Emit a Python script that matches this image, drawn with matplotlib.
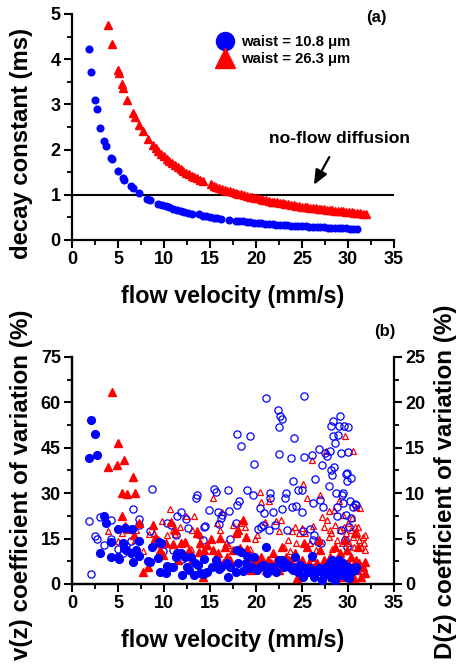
import matplotlib
matplotlib.use("Agg")
import matplotlib.pyplot as plt
from matplotlib.ticker import MultipleLocator
from matplotlib.lines import Line2D

plt.rcParams['font.family'] = ['Liberation Sans', 'DejaVu Sans']
plt.rcParams['font.weight'] = 'bold'

BLUE = '#0000ff'
RED = '#ff0000'

# ---- panel (a): decay constant vs flow velocity ----
a_blue_x = [1.8, 2.1, 2.5, 2.7, 3.1, 3.5, 3.7, 4.2, 4.3, 5.0, 5.5, 5.7, 6.4, 6.6, 7.3,
            8.2, 8.5, 9.4, 9.8, 10.2, 10.6, 11.0, 11.4, 11.8, 12.2, 12.6, 13.0, 13.8,
            14.2, 14.6, 15.0, 15.4, 15.8, 16.2, 17.1, 17.8, 18.2, 18.6, 19.0, 19.4,
            19.8, 20.2, 20.6, 21.0, 21.4, 21.8, 22.2, 22.6, 23.0, 23.4, 23.8, 24.2,
            24.6, 25.0, 25.4, 25.8, 26.2, 26.6, 27.0, 27.4, 27.8, 28.2, 28.6, 29.0,
            29.4, 29.8, 30.2, 30.6, 31.0]
a_blue_y = [4.22, 3.72, 3.10, 2.90, 2.48, 2.20, 2.07, 1.82, 1.80, 1.53, 1.37, 1.33, 1.20,
            1.16, 1.05, 0.91, 0.88, 0.80, 0.77, 0.745, 0.72, 0.69, 0.665, 0.645, 0.62,
            0.605, 0.585, 0.565, 0.535, 0.52, 0.505, 0.495, 0.48, 0.47, 0.45, 0.43,
            0.42, 0.41, 0.40, 0.39, 0.385, 0.375, 0.37, 0.36, 0.355, 0.35, 0.34, 0.335,
            0.33, 0.325, 0.32, 0.315, 0.31, 0.305, 0.30, 0.295, 0.29, 0.285, 0.28,
            0.277, 0.273, 0.27, 0.265, 0.262, 0.258, 0.255, 0.25, 0.248, 0.245]

a_red_x = [3.9, 4.3, 5.0, 5.1, 5.4, 5.6, 6.0, 6.6, 6.8, 7.3, 7.7, 8.3, 8.8, 9.1, 9.4,
           9.7, 10.0, 10.3, 10.6, 10.9, 11.2, 11.5, 11.8, 12.1, 12.4, 12.7, 13.0, 13.3,
           13.6, 13.9, 14.2, 15.1, 15.4, 15.7, 16.0, 16.3, 16.6, 16.9, 17.2, 17.5,
           17.8, 18.1, 18.4, 18.7, 19.0, 19.3, 19.6, 19.9, 20.2, 20.5, 20.8, 21.1,
           21.4, 21.7, 22.0, 22.3, 22.6, 22.9, 23.2, 23.5, 23.8, 24.1, 24.4, 24.7,
           25.0, 25.3, 25.6, 25.9, 26.2, 26.5, 26.8, 27.1, 27.4, 27.7, 28.0, 28.3,
           28.6, 28.9, 29.2, 29.5, 29.8, 30.1, 30.4, 30.7, 31.0, 31.3, 31.6, 32.0]
a_red_y = [4.75, 4.33, 3.77, 3.70, 3.45, 3.36, 3.09, 2.80, 2.72, 2.55, 2.40, 2.23, 2.10,
           2.03, 1.97, 1.91, 1.85, 1.80, 1.75, 1.70, 1.65, 1.61, 1.57, 1.53, 1.49, 1.46,
           1.42, 1.39, 1.36, 1.33, 1.30, 1.23, 1.20, 1.18, 1.16, 1.13, 1.11, 1.09, 1.08,
           1.06, 1.04, 1.02, 1.01, 0.99, 0.97, 0.96, 0.94, 0.93, 0.92, 0.90, 0.89, 0.88,
           0.86, 0.85, 0.84, 0.83, 0.82, 0.81, 0.80, 0.79, 0.78, 0.77, 0.76, 0.75, 0.74,
           0.73, 0.72, 0.715, 0.71, 0.70, 0.69, 0.68, 0.675, 0.67, 0.66, 0.655, 0.65,
           0.64, 0.635, 0.63, 0.62, 0.615, 0.61, 0.60, 0.597, 0.59, 0.585, 0.578]

noflow_level = 1.0

# ---- panel (b): coefficient of variation ----
# filled: v(z) CV (left axis), open: D(z) CV (right axis)
vb_x = [1.81, 2.07, 2.46, 2.68, 3.1, 3.48, 3.7, 4.2, 4.2, 5.0, 5.0, 5.07, 5.58, 5.69,
        5.76, 5.87, 6.38, 6.6, 6.56, 7.0, 7.25, 7.3, 8.26, 8.44, 8.66, 9.42, 9.53, 9.7,
        9.4, 10.2, 10.3, 10.65, 10.94, 11.27, 11.41, 11.9, 12.0, 12.3, 12.46, 12.7,
        12.9, 13.3, 13.37, 13.66, 13.9, 14.2, 14.38, 14.5, 14.7, 15.2, 15.65, 15.8,
        16.0, 16.2, 16.8, 17.0, 17.2, 17.8, 17.9, 18.1, 18.4, 18.55, 18.9, 19.06,
        19.35, 19.6, 19.8, 20.1, 20.4, 20.8, 21.05, 21.2, 21.4, 21.6, 21.9, 22.2,
        22.5, 22.6, 22.8, 23.0, 23.2, 23.5, 23.8, 24.06, 24.2, 24.35, 24.6, 24.8,
        25.1, 25.3, 25.7, 25.9, 26.1, 26.3, 26.5, 26.8, 27.0, 27.2, 27.4, 27.6, 27.9,
        28.0, 28.15, 28.3, 28.4, 28.6, 28.8, 28.9, 29.05, 29.2, 29.3, 29.5, 29.7,
        29.85, 30.0, 30.15, 30.3, 30.5, 30.75, 30.9]
vb_y = [41.5, 54.1, 49.7, 42.7, 10.1, 22.6, 20.3, 9.0, 13.8, 18.1, 9.0, 8.2, 13.5, 11.8,
        18.4, 11.2, 10.1, 7.3, 18.1, 11.2, 9.3, 14.2, 7.7, 7.4, 12.2, 13.9, 3.9, 13.7,
        8.6, 3.5, 6.0, 5.7, 5.7, 8.8, 10.4, 10.1, 3.1, 8.8, 5.5, 4.6, 9.0, 3.0, 6.9,
        6.3, 3.5, 3.2, 8.2, 3.5, 4.1, 5.7, 7.9, 6.8, 4.9, 5.7, 6.8, 2.4, 5.7, 4.0,
        11.2, 6.8, 10.7, 4.4, 6.8, 9.3, 5.2, 5.7, 9.0, 4.6, 5.7, 6.3, 12.3, 3.5, 5.7,
        4.6, 5.5, 4.1, 7.9, 6.8, 7.9, 5.7, 6.8, 6.3, 5.2, 4.6, 9.0, 5.7, 4.1, 6.3,
        2.4, 5.2, 4.1, 5.2, 9.3, 2.4, 4.1, 5.2, 4.6, 1.3, 3.0, 5.7, 4.1, 6.8, 2.4,
        7.9, 5.2, 1.3, 6.8, 4.1, 7.9, 5.7, 3.0, 6.8, 4.6, 2.4, 5.7, 1.9, 4.1, 5.2,
        4.6, 5.7]

vr_x = [4.31, 3.88, 4.96, 4.9, 5.65, 5.43, 5.98, 6.6, 6.8, 5.4, 5.76, 6.7, 7.3, 7.75,
        8.3, 8.84, 9.06, 9.3, 9.56, 9.86, 10.2, 10.8, 11.0, 11.2, 11.56, 11.85, 12.3,
        12.7, 13.1, 13.55, 13.8, 13.9, 14.2, 14.4, 14.7, 15.1, 15.36, 15.65, 15.9,
        16.1, 16.4, 16.6, 16.9, 17.2, 17.5, 17.8, 18.1, 18.26, 18.6, 18.9, 19.06,
        19.3, 19.5, 19.8, 20.25, 20.5, 20.8, 21.1, 21.3, 21.6, 21.9, 22.2, 22.5, 22.8,
        23.0, 23.3, 23.6, 23.9, 24.2, 24.5, 24.7, 25.0, 25.2, 25.5, 25.8, 26.05,
        26.3, 26.6, 26.9, 27.0, 27.2, 27.4, 27.6, 27.8, 28.0, 28.26, 28.4, 28.6,
        28.8, 29.0, 29.1, 29.35, 29.5, 29.7, 29.85, 30.0, 30.15, 30.36, 30.6, 30.7,
        30.9, 31.0, 31.2, 31.4, 31.6, 31.8, 31.9, 30.8, 31.1]
vr_y = [63.4, 38.8, 46.7, 39.4, 41.0, 30.0, 29.8, 35.5, 30.0, 22.3, 19.0, 16.2, 20.3,
        4.1, 5.7, 19.5, 15.1, 13.5, 11.2, 9.6, 13.5, 20.6, 13.2, 17.9, 7.9, 13.5,
        13.9, 11.2, 7.9, 16.8, 10.7, 13.5, 2.4, 11.2, 12.9, 14.9, 11.2, 9.0, 10.1,
        15.1, 6.8, 12.3, 9.0, 7.9, 11.2, 16.8, 17.9, 11.8, 21.2, 15.4, 11.5, 7.9, 4.6,
        6.8, 7.9, 9.0, 6.8, 4.6, 7.9, 6.8, 10.1, 7.9, 4.6, 12.3, 6.8, 9.0, 7.9, 6.8,
        10.1, 1.9, 6.8, 7.9, 13.5, 12.3, 6.8, 9.0, 5.7, 6.8, 14.6, 11.2, 2.4, 7.9,
        4.6, 6.8, 9.0, 2.4, 5.7, 12.3, 7.9, 4.6, 10.1, 6.8, 2.4, 14.6, 11.2, 6.8, 4.1,
        9.0, 5.7, 1.9, 7.9, 4.6, 6.8, 2.4, 5.7, 3.5, 7.4, 16.8, 12.3]

db_x = [1.81, 2.07, 2.46, 2.68, 3.1, 3.5, 4.24, 4.2, 5.0, 5.58, 5.87, 6.38, 6.6, 7.25,
        7.3, 8.5, 8.7, 9.4, 9.86, 10.3, 10.8, 11.0, 11.3, 11.4, 11.9, 12.0, 12.4,
        12.57, 13.5, 13.6, 14.2, 14.4, 14.5, 14.9, 15.4, 15.7, 15.9, 16.0, 16.2,
        16.3, 17.0, 17.1, 17.2, 17.8, 17.97, 17.9, 18.2, 18.4, 19.3, 19.06, 19.7,
        19.8, 20.25, 20.4, 20.6, 20.8, 20.9, 21.05, 21.4, 21.5, 21.5, 21.8, 22.06,
        22.4, 22.5, 22.6, 22.8, 22.5, 22.8, 23.2, 23.3, 23.4, 23.8, 23.9, 24.06,
        24.1, 24.3, 24.6, 25.0, 25.0, 25.1, 25.25, 25.2, 25.9, 26.1, 26.2, 26.2,
        26.3, 26.4, 26.7, 26.8, 26.96, 27.1, 27.2, 27.3, 27.5, 27.7, 27.9, 28.0,
        28.16, 28.2, 28.3, 28.4, 28.4, 28.5, 28.6, 28.7, 28.8, 28.8, 28.95, 29.06,
        29.1, 29.2, 29.3, 29.5, 29.6, 29.78, 29.78, 29.85, 29.9, 30.0, 30.04, 30.14,
        30.2, 30.3, 30.36, 30.6, 30.8, 30.9, 29.5, 29.2, 29.7, 29.85]
db_y = [6.95, 1.07, 5.3, 4.9, 7.35, 4.3, 7.1, 5.0, 3.8, 3.4, 4.2, 4.7, 8.3, 7.2, 6.5,
        5.8, 10.5, 4.5, 3.6, 6.7, 6.5, 3.75, 5.4, 7.5, 7.9, 2.8, 7.2, 6.2, 9.5, 9.8,
        4.8, 6.3, 6.4, 8.1, 10.5, 10.1, 7.9, 6.6, 7.3, 7.6, 10.3, 8.0, 5.0, 6.7,
        16.5, 8.7, 9.1, 15.2, 16.25, 10.4, 9.8, 13.2, 6.1, 8.35, 6.3, 6.5, 7.8, 20.5,
        5.95, 10.0, 9.5, 7.9, 6.5, 19.2, 17.3, 18.5, 18.2, 14.3, 8.3, 9.45, 10.0,
        5.95, 13.9, 8.5, 11.3, 16.1, 8.6, 10.4, 10.4, 7.9, 5.8, 20.7, 14.0, 6.1,
        14.2, 8.9, 4.85, 5.4, 11.6, 4.6, 14.85, 9.2, 4.5, 13.1, 8.5, 14.4, 14.1,
        10.8, 14.6, 12.6, 17.35, 12.0, 17.9, 16.25, 12.9, 15.5, 10.0, 8.5, 7.5,
        16.4, 17.35, 18.45, 14.4, 9.8, 10.0, 17.35, 12.1, 7.6, 12.2, 11.3, 14.5,
        17.25, 6.3, 9.1, 11.7, 7.25, 8.5, 8.8, 8.7, 8.9, 6.0, 4.85, 4.1]

dr_x = [3.88, 5.0, 5.43, 6.05, 6.27, 6.9, 7.0, 7.75, 8.37, 8.9, 9.3, 9.78, 10.3, 10.7,
        10.98, 11.23, 11.7, 12.0, 12.4, 12.9, 13.04, 13.3, 13.55, 13.9, 15.3, 15.8,
        16.1, 16.35, 16.7, 17.0, 17.5, 17.97, 18.3, 18.8, 19.3, 19.9, 20.1, 20.4,
        20.5, 21.0, 21.4, 22.2, 22.5, 22.7, 23.0, 23.5, 23.7, 23.9, 24.2, 24.4, 24.7,
        25.0, 25.1, 25.3, 25.6, 25.9, 26.1, 26.2, 26.5, 26.96, 27.2, 27.4, 27.6,
        27.7, 27.9, 27.98, 28.06, 28.2, 28.3, 28.5, 28.6, 28.8, 29.0, 29.1, 29.3,
        29.5, 29.6, 29.7, 29.78, 29.85, 30.0, 30.14, 30.3, 30.4, 30.5, 30.6, 30.65,
        30.8, 30.9, 31.0, 31.1, 31.2, 31.3, 31.4, 31.6, 31.7, 31.85, 31.8]
dr_y = [5.8, 4.7, 5.65, 5.95, 6.1, 4.85, 5.95, 3.6, 5.5, 5.6, 4.9, 6.95, 5.4, 8.3, 6.0,
        5.5, 6.3, 4.5, 7.5, 3.9, 5.95, 7.5, 5.95, 5.4, 9.5, 6.7, 5.95, 7.9, 4.5, 4.3,
        6.5, 5.6, 6.7, 6.3, 3.9, 5.0, 5.4, 10.1, 9.0, 6.8, 9.1, 6.9, 5.85, 7.0, 4.1,
        4.85, 3.6, 5.8, 6.3, 4.5, 5.65, 6.2, 11.0, 5.6, 9.45, 4.5, 13.6, 6.4, 3.75,
        9.8, 7.4, 6.3, 14.6, 7.1, 5.2, 8.05, 5.95, 5.6, 3.9, 8.15, 6.5, 4.85, 9.1,
        5.95, 4.5, 7.6, 6.3, 16.25, 5.6, 3.6, 6.7, 4.5, 5.95, 7.25, 5.2, 14.6, 4.1,
        6.3, 8.5, 5.6, 6.3, 4.85, 8.35, 4.1, 5.2, 4.5, 3.75, 5.4]

xticks = [0, 5, 10, 15, 20, 25, 30, 35]

TICK_FS = 13
XLABEL_FS = 16.8


def style_axis(ax, right=False):
    ax.set_xlim(0, 35)
    ax.set_xticks(xticks)
    ax.xaxis.set_minor_locator(MultipleLocator(2.5))
    ax.spines['top'].set_visible(False)
    if not right:
        ax.spines['right'].set_visible(False)
    for s in ax.spines.values():
        s.set_linewidth(1.6)
    ax.tick_params(which='major', direction='out', length=6, width=1.5,
                   labelsize=TICK_FS, pad=2)
    ax.tick_params(which='minor', direction='out', length=3.5, width=1.3)
    for lab in ax.get_xticklabels() + ax.get_yticklabels():
        lab.set_fontweight('bold')


fig = plt.figure(figsize=(4.57, 6.64), dpi=100)

# ---- panel (a) ----
axa = fig.add_axes([0.1575, 0.6386, 0.7046, 0.3404])
axa.plot(a_blue_x, a_blue_y, 'o', color=BLUE, ms=4.8, mec=BLUE, zorder=3)
axa.plot(a_red_x, a_red_y, '^', color=RED, ms=5.2, mec=RED, zorder=3)
axa.axhline(noflow_level, color='black', lw=1.5, zorder=2)
axa.set_ylim(0, 5)
axa.set_yticks([0, 1, 2, 3, 4, 5])
axa.yaxis.set_minor_locator(MultipleLocator(0.5))
style_axis(axa)
axa.set_xlabel('flow velocity (mm/s)', fontsize=XLABEL_FS, fontweight='bold', labelpad=12)
axa.set_ylabel('decay constant (ms)', fontsize=17.2, fontweight='bold')
axa.yaxis.set_label_coords(-0.121, 0.427)
axa.text(0.946, 0.985, '(a)', transform=axa.transAxes, ha='center', va='center',
         fontsize=12, fontweight='bold')
axa.annotate('no-flow diffusion', xy=(26.3, 1.22), xytext=(29.1, 2.25),
             ha='center', va='center', fontsize=12.6, fontweight='bold',
             arrowprops=dict(arrowstyle='-|>,head_length=0.7,head_width=0.3',
                             color='black', lw=1.6, shrinkA=7, shrinkB=0))
handles = [Line2D([], [], ls='none', marker='o', color=BLUE, ms=13),
           Line2D([], [], ls='none', marker='^', color=RED, ms=14)]
axa.legend(handles, ['waist = 10.8 \u03bcm', 'waist = 26.3 \u03bcm'],
           loc='upper left', bbox_to_anchor=(0.425, 0.945), frameon=False,
           prop={'size': 10.7, 'weight': 'bold'}, handlelength=1.0,
           handletextpad=0.6, labelspacing=0.2, borderpad=0.1)

# ---- panel (b) ----
axb = fig.add_axes([0.1575, 0.1205, 0.7046, 0.3419])
axd = axb.twinx()
axd.plot(dr_x, dr_y, '^', ms=5.0, mfc='none', mec=RED, mew=0.9, zorder=2)
axd.plot(db_x, db_y, 'o', ms=5.2, mfc='none', mec=BLUE, mew=0.9, zorder=2)
axb.plot(vr_x, vr_y, '^', color=RED, ms=6.0, mec=RED, zorder=3)
axb.plot(vb_x, vb_y, 'o', color=BLUE, ms=5.6, mec=BLUE, zorder=4)
axb.set_zorder(axd.get_zorder() + 1)
axb.patch.set_visible(False)

axb.set_ylim(0, 75)
axb.set_yticks([0, 15, 30, 45, 60, 75])
axb.yaxis.set_minor_locator(MultipleLocator(7.5))
axd.set_ylim(0, 25)
axd.set_yticks([0, 5, 10, 15, 20, 25])
axd.yaxis.set_minor_locator(MultipleLocator(2.5))
style_axis(axb)
style_axis(axd, right=True)
axb.spines['right'].set_visible(False)
axb.set_xlabel('flow velocity (mm/s)', fontsize=XLABEL_FS, fontweight='bold', labelpad=12)
axb.set_ylabel('v(z) coefficient of variation (%)', fontsize=17.4,
               fontweight='bold')
axb.yaxis.set_label_coords(-0.121, 0.435)
axd.set_ylabel('D(z) coefficient of variation (%)', fontsize=17.4,
               fontweight='bold', rotation=90)
axd.yaxis.set_label_coords(1.125, 0.45)
axb.text(0.97, 1.11, '(b)', transform=axb.transAxes, ha='center', va='center',
         fontsize=12, fontweight='bold')

fig.savefig('out.png', dpi=100)
